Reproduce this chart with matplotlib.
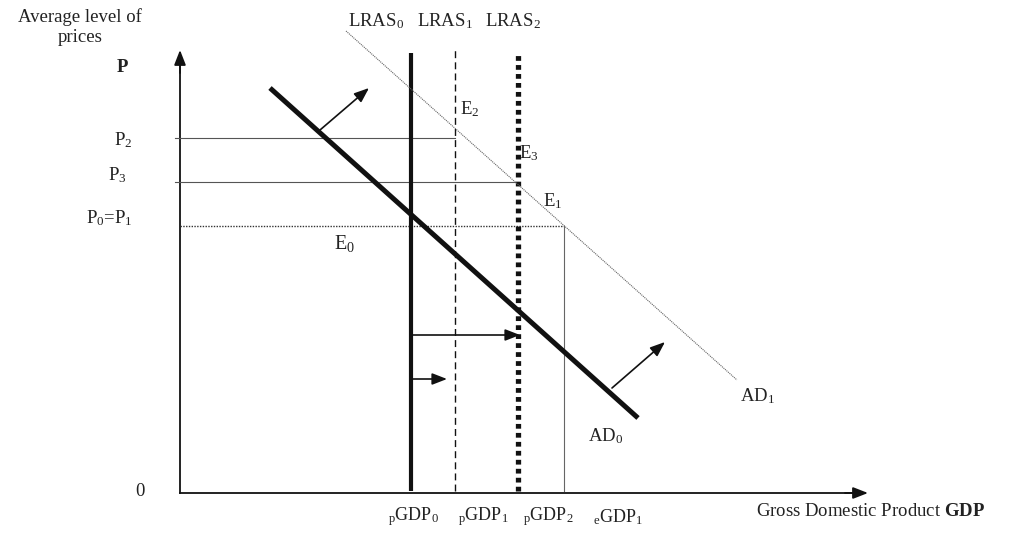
import matplotlib.pyplot as plt

plt.rcParams['font.family'] = ['Liberation Serif', 'DejaVu Serif']
plt.rcParams['mathtext.fontset'] = 'custom'
plt.rcParams['mathtext.rm'] = 'Liberation Serif'
plt.rcParams['mathtext.it'] = 'Liberation Serif'
plt.rcParams['mathtext.bf'] = 'Liberation Serif:bold'

# long-run supply positions (GDP units) and the eGDP1 level
lras_names = ['LRAS$_0$', 'LRAS$_1$', 'LRAS$_2$']
lras_name_x = [16.8, 23.7, 30.5]
lras_x = [23.1, 27.5, 33.8]
lras_top = [44.0, 44.3, 44.0]
egdp1_x = 38.4

# price levels
p_names = ['P$_2$', 'P$_3$', 'P$_0$=P$_1$']
p_levels = [35.5, 31.1, 26.7]
p_ends = [27.5, 33.8, 38.4]

# aggregate demand curves (start, end)
ad0_x = [9.0, 45.8]
ad0_y = [40.5, 7.5]
ad1_x = [16.6, 55.7]
ad1_y = [46.2, 11.3]

# shift arrows
ad_shift = [((14.0, 36.3), (18.9, 40.5)), ((43.2, 10.5), (48.5, 15.1))]
lras_shift = [((23.1, 15.8), (34.0, 15.8)), ((23.1, 11.4), (26.7, 11.4))]

gdp_labels = ['$_{p}$GDP$_{0}$', '$_{p}$GDP$_{1}$', '$_{p}$GDP$_{2}$', '$_{e}$GDP$_{1}$']
gdp_label_x = [20.8, 27.8, 34.3, 41.3]

ink = '#111111'
txt = '#222222'

fig = plt.figure(figsize=(10.1, 5.4), dpi=100)
ax = fig.add_axes([0, 0, 1, 1])
ax.set_xlim(-18, 83)
ax.set_ylim(-4.7, 49.3)
ax.axis('off')

# axes with arrow heads
ax.plot([0, 0], [0, 43.0], color=ink, lw=1.3)
ax.plot([0, 67.5], [0, 0], color=ink, lw=1.3)
ax.annotate('', xy=(0, 44.3), xytext=(0, 42.0),
            arrowprops=dict(arrowstyle='-|>,head_length=0.9,head_width=0.35',
                            color=ink, lw=1.3, shrinkA=0, shrinkB=0))
ax.annotate('', xy=(68.8, 0), xytext=(66.5, 0),
            arrowprops=dict(arrowstyle='-|>,head_length=0.9,head_width=0.35',
                            color=ink, lw=1.3, shrinkA=0, shrinkB=0))

# price level guide lines
ax.plot([-0.5, p_ends[0]], [p_levels[0]] * 2, color='#555555', lw=0.8)
ax.plot([-0.5, p_ends[1]], [p_levels[1]] * 2, color='#555555', lw=0.8)
ax.plot([0, p_ends[2]], [p_levels[2]] * 2, color='#333333', lw=1.0, ls=(0, (1, 1)))
ax.plot([egdp1_x, egdp1_x], [0.2, p_levels[2]], color='#666666', lw=0.8)

# LRAS lines
ax.plot([lras_x[0]] * 2, [0.2, lras_top[0]], color=ink, lw=3.0, solid_capstyle='butt')
ax.plot([lras_x[1]] * 2, [0.2, lras_top[1]], color=ink, lw=1.0, ls=(0, (5, 3)))
ax.plot([lras_x[2]] * 2, [0.2, lras_top[2]], color=ink, lw=3.8, ls=(0, (0.9, 0.8)),
        dash_capstyle='butt')

# AD curves
ax.plot(ad1_x, ad1_y, color='#666666', lw=0.8, ls=(0, (1, 0.8)))
ax.plot(ad0_x, ad0_y, color=ink, lw=3.6, solid_capstyle='butt')

for start, tip in ad_shift + lras_shift:
    ax.annotate('', xy=tip, xytext=start,
                arrowprops=dict(arrowstyle='-|>,head_length=0.9,head_width=0.35',
                                color=ink, lw=1.2, shrinkA=0, shrinkB=0))

fs = 13.5
ax.text(-10, 47.6, 'Average level of', fontsize=fs, ha='center', va='center', color=txt)
ax.text(-10, 45.6, 'prices', fontsize=fs, ha='center', va='center', color=txt)
ax.text(-5.8, 42.6, 'P', fontsize=fs, ha='center', va='center', weight='bold', color=txt)
ax.text(-4.8, 35.3, p_names[0], fontsize=fs, ha='right', va='center', color=txt)
ax.text(-5.3, 31.8, p_names[1], fontsize=fs, ha='right', va='center', color=txt)
ax.text(-4.7, 27.5, p_names[2], fontsize=fs, ha='right', va='center', color=txt)
ax.text(-4.0, 0.1, '0', fontsize=fs, ha='center', va='center', color=txt)

for lab, x in zip(lras_names, lras_name_x):
    ax.text(x, 47.2, lab, fontsize=fs, ha='left', va='center', color=txt)
ax.text(28.0, 38.4, 'E$_2$', fontsize=fs, ha='left', va='center', color=txt)
ax.text(33.9, 34.0, 'E$_3$', fontsize=fs, ha='left', va='center', color=txt)
ax.text(36.3, 29.2, 'E$_1$', fontsize=fs, ha='left', va='center', color=txt)
ax.text(15.4, 25.0, 'E$_0$', fontsize=fs + 1, ha='left', va='center', color=txt)
ax.text(42.6, 5.7, 'AD$_0$', fontsize=fs, ha='center', va='center', color=txt)
ax.text(56.0, 9.7, 'AD$_1$', fontsize=fs, ha='left', va='center', color=txt)

ax.text(57.6, -1.9, 'Gross Domestic Product $\\mathbf{GDP}$', fontsize=fs, ha='left',
        va='center', color=txt)
for lab, x in zip(gdp_labels, gdp_label_x):
    ax.text(x, -2.4, lab, fontsize=13, ha='left', va='center', color=txt)

fig.savefig('out.png', dpi=100)
